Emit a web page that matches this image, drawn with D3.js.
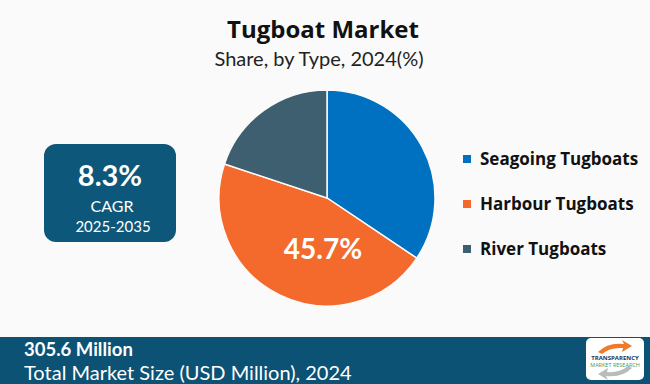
<!DOCTYPE html>
<html>
<head>
<meta charset="utf-8">
<script src="https://cdn.jsdelivr.net/npm/d3@7"></script>
<style>
  body { margin: 0; background: #fafafa; }
  svg { display: block; }
</style>
</head>
<body>
<script>
var width = 650, height = 384

// data
var types = ["Seagoing Tugboats", "Harbour Tugboats", "River Tugboats"]
var shares = [34.4, 45.7, 19.9]
var colors = ["#0070c0", "#f36a2c", "#3d5f6f"]
var cagr = "8.3%"
var cagrPeriod = "2025-2035"
var marketSize = "305.6 Million"

var svg = d3.select("body").append("svg")
  .attr("width", width)
  .attr("height", height)

svg.append("rect")
  .attr("width", width).attr("height", height)
  .attr("fill", "#fafafa")

// titles
svg.append("text")
  .attr("x", 323).attr("y", 38)
  .attr("text-anchor", "middle")
  .style("font-family", "Open Sans")
  .style("font-weight", "bold")
  .style("font-size", "24px")
  .attr("fill", "#111")
  .text("Tugboat Market")

svg.append("text")
  .attr("x", 319).attr("y", 66)
  .attr("text-anchor", "middle")
  .style("font-family", "Lato")
  .style("font-size", "20px")
  .attr("fill", "#222")
  .text("Share, by Type, 2024(%)")

// pie
var pieData = types.map(function(t, i) { return {name: t, value: shares[i], color: colors[i]} })
var pie = d3.pie().sort(null).value(function(d) { return d.value })
var arc = d3.arc().innerRadius(0).outerRadius(108)

var pieG = svg.append("g").attr("transform", "translate(327,198)")
var arcs = pie(pieData)

pieG.selectAll("path")
  .data(arcs)
  .enter().append("path")
  .attr("d", arc)
  .attr("fill", function(d) { return d.data.color })
  .attr("stroke", "#fafafa")
  .attr("stroke-width", 1.5)

// label only the largest slice
var big = arcs[1]
pieG.append("text")
  .attr("x", -4).attr("y", 61)
  .attr("text-anchor", "middle")
  .style("font-family", "Lato")
  .style("font-weight", "bold")
  .style("font-size", "28px")
  .attr("fill", "#fff")
  .text(big.data.value.toFixed(1) + "%")

// CAGR box
svg.append("rect")
  .attr("x", 44).attr("y", 144)
  .attr("width", 132).attr("height", 98)
  .attr("rx", 12)
  .attr("fill", "#0d587a")

svg.append("text")
  .attr("x", 110).attr("y", 186)
  .attr("text-anchor", "middle")
  .style("font-family", "Lato")
  .style("font-weight", "bold")
  .style("font-size", "29px")
  .attr("fill", "#fff")
  .text(cagr)

svg.append("text")
  .attr("x", 112).attr("y", 212)
  .attr("text-anchor", "middle")
  .style("font-family", "Lato")
  .style("font-size", "16px")
  .attr("fill", "#fff")
  .text("CAGR")

svg.append("text")
  .attr("x", 113).attr("y", 232)
  .attr("text-anchor", "middle")
  .style("font-family", "Lato")
  .style("font-size", "15px")
  .attr("fill", "#fff")
  .text(cagrPeriod)

// legend
var legend = svg.selectAll(".leg")
  .data(pieData)
  .enter().append("g")
  .attr("transform", function(d, i) { return "translate(463," + (159 + i * 45) + ")" })

legend.append("rect")
  .attr("x", 0).attr("y", -4)
  .attr("width", 8).attr("height", 8)
  .attr("fill", function(d) { return d.color })

legend.append("text")
  .attr("x", 17).attr("y", 6)
  .style("font-family", "Open Sans")
  .style("font-weight", "bold")
  .style("font-size", "17px")
  .attr("fill", "#111")
  .text(function(d) { return d.name })

// bottom bar
svg.append("rect")
  .attr("x", 0).attr("y", 337)
  .attr("width", width).attr("height", 47)
  .attr("fill", "#0b5275")

svg.append("text")
  .attr("x", 24).attr("y", 356)
  .style("font-family", "Lato")
  .style("font-weight", "bold")
  .style("font-size", "18.5px")
  .attr("fill", "#fff")
  .text(marketSize)

svg.append("text")
  .attr("x", 24).attr("y", 380)
  .style("font-family", "Lato")
  .style("font-size", "20px")
  .attr("fill", "#fff")
  .text("Total Market Size (USD Million), 2024")

// logo
var logo = svg.append("g").attr("transform", "translate(586,338)")
logo.append("rect")
  .attr("width", 58).attr("height", 42)
  .attr("rx", 5)
  .attr("fill", "#fff")
logo.append("path")
  .attr("d", "M12,14 Q22,4 38,6 L36,2 L46,8 L36,14 L37,10 Q24,9 16,16 Z")
  .attr("fill", "#f07a2a")
logo.append("path")
  .attr("d", "M46,30 Q36,40 20,38 L22,42 L12,36 L22,30 L21,34 Q34,35 42,28 Z")
  .attr("fill", "#bbb")
logo.append("text")
  .attr("x", 29).attr("y", 22)
  .attr("text-anchor", "middle")
  .style("font-family", "Open Sans")
  .style("font-weight", "bold")
  .style("font-size", "6px")
  .attr("fill", "#1a3550")
  .text("TRANSPARENCY")
logo.append("text")
  .attr("x", 29).attr("y", 29)
  .attr("text-anchor", "middle")
  .style("font-family", "Open Sans")
  .style("font-size", "5.5px")
  .attr("fill", "#4a9a5a")
  .text("MARKET RESEARCH")
</script>
</body>
</html>
